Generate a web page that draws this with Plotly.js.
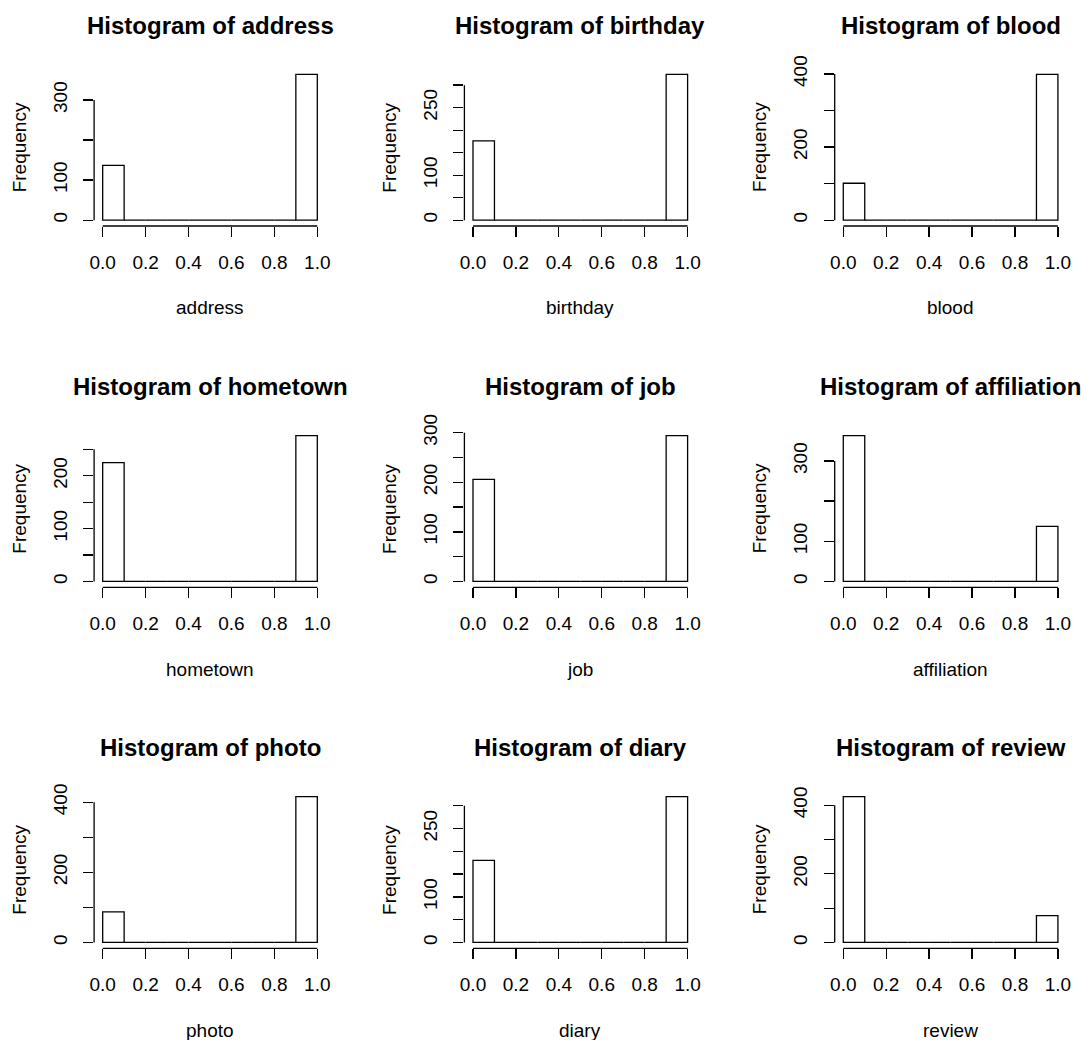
<!DOCTYPE html>
<html>
<head>
<meta charset="utf-8">
<script src="https://cdn.plot.ly/plotly-3.0.1.min.js"></script>
<style>
  html, body { margin: 0; padding: 0; background: #ffffff; }
  #chart { width: 1087px; height: 1040px; }
</style>
</head>
<body>
<div id="chart"></div>
<script>
// ---- data ----
const variables = ['address', 'birthday', 'blood', 'hometown', 'job', 'affiliation', 'photo', 'diary', 'review'];
const binEdges = [0, 0.1, 0.2, 0.3, 0.4, 0.5, 0.6, 0.7, 0.8, 0.9, 1.0];
const countFirstBin = [137, 176, 101, 225, 206, 363, 87, 180, 425];   // bin [0, 0.1]
const countLastBin  = [364, 324, 399, 276, 294, 137, 416, 320, 78];   // bin (0.9, 1.0]
const xTickVals = [0, 0.2, 0.4, 0.6, 0.8, 1.0];
const xTickText = ['0.0', '0.2', '0.4', '0.6', '0.8', '1.0'];
const yTickStep = [100, 50, 100, 50, 50, 100, 100, 50, 100];
const yTickTop  = [300, 300, 400, 250, 300, 300, 400, 300, 400];
const yTickShown = [
  [0, 100, 300], [0, 100, 250], [0, 200, 400],
  [0, 100, 200], [0, 100, 200, 300], [0, 100, 300],
  [0, 200, 400], [0, 100, 250], [0, 200, 400]
];

// ---- layout geometry (pixels) ----
const W = 1087, H = 1040;
const colLeft = [94.1, 464.4, 834.7];
const plotW = 231.8;
const rowBottom = [226, 587.3, 948.3];
const plotH = 157.5;
const FONT = 'Liberation Sans, Arial, sans-serif';
const INK = '#000000';
const LW = 1.3;

const traces = [];
const layout = {
  width: W, height: H,
  margin: {l: 0, r: 0, t: 0, b: 0},
  paper_bgcolor: '#ffffff', plot_bgcolor: '#ffffff',
  showlegend: false,
  font: {family: FONT, size: 19, color: INK},
  annotations: [], shapes: []
};

const binCenters = binEdges.slice(0, -1).map((e, k) => (e + binEdges[k + 1]) / 2);
const binWidth = binEdges[1] - binEdges[0];

variables.forEach((name, i) => {
  const r = Math.floor(i / 3), c = i % 3;
  const sfx = i === 0 ? '' : String(i + 1);
  const xa = 'x' + sfx, ya = 'y' + sfx;
  const counts = binCenters.map((_, k) => k === 0 ? countFirstBin[i] : (k === binCenters.length - 1 ? countLastBin[i] : 0));
  const ymax = Math.max(...counts);

  traces.push({
    type: 'bar', x: binCenters, y: counts, width: binWidth,
    xaxis: xa, yaxis: ya,
    marker: {color: '#ffffff', line: {color: INK, width: LW}},
    hoverinfo: 'x+y'
  });

  const left = colLeft[c], right = left + plotW;
  const bottom = rowBottom[r], top = bottom - plotH;

  const yTicks = [];
  for (let v = 0; v <= yTickTop[i] + 1e-9; v += yTickStep[i]) yTicks.push(v);
  const yText = yTicks.map(v => yTickShown[i].includes(v) ? String(v) : '');

  const x0 = binEdges[0], x1 = binEdges[binEdges.length - 1];
  layout['xaxis' + sfx] = {
    domain: [left / W, right / W], anchor: ya,
    range: [x0 - 0.04 * (x1 - x0), x1 + 0.04 * (x1 - x0)],
    tickmode: 'array', tickvals: xTickVals, ticktext: xTickText,
    ticks: 'outside', ticklen: 10, tickwidth: LW, tickcolor: INK,
    ticklabelstandoff: 9,
    showline: false, showgrid: false, zeroline: false,
    tickfont: {family: FONT, size: 19, color: INK}, fixedrange: true
  };
  layout['yaxis' + sfx] = {
    domain: [(H - bottom) / H, (H - top) / H], anchor: xa,
    range: [-0.04 * ymax, 1.04 * ymax],
    tickmode: 'array', tickvals: yTicks, ticktext: yText,
    ticks: 'outside', ticklen: 10, tickwidth: LW, tickcolor: INK,
    tickangle: -90, ticklabelstandoff: 9,
    showline: false, showgrid: false, zeroline: false,
    tickfont: {family: FONT, size: 19, color: INK}, fixedrange: true
  };

  // R-style axis lines spanning first to last tick
  layout.shapes.push({
    type: 'line', xref: xa, yref: ya + ' domain',
    x0: xTickVals[0], x1: xTickVals[xTickVals.length - 1], y0: 0, y1: 0,
    line: {color: INK, width: LW}
  });
  layout.shapes.push({
    type: 'line', xref: xa + ' domain', yref: ya,
    x0: 0, x1: 0, y0: yTicks[0], y1: yTicks[yTicks.length - 1],
    line: {color: INK, width: LW}
  });

  const cx = (left + right) / 2 / W;
  layout.annotations.push({
    text: '<b>Histogram of ' + name + '</b>', xref: 'paper', yref: 'paper',
    x: cx, y: (H - (top - 43.5)) / H, xanchor: 'center', yanchor: 'middle',
    showarrow: false, font: {family: FONT, size: 24, color: INK}
  });
  layout.annotations.push({
    text: name, xref: 'paper', yref: 'paper',
    x: cx, y: (H - (bottom + 82)) / H, xanchor: 'center', yanchor: 'middle',
    showarrow: false, font: {family: FONT, size: 19, color: INK}
  });
  layout.annotations.push({
    text: 'Frequency', xref: 'paper', yref: 'paper', textangle: -90,
    x: (left - 75) / W, y: (H - (top + bottom) / 2) / H, xanchor: 'center', yanchor: 'middle',
    showarrow: false, font: {family: FONT, size: 19, color: INK}
  });
});

Plotly.newPlot('chart', traces, layout, {staticPlot: true, displayModeBar: false});
</script>
</body>
</html>
